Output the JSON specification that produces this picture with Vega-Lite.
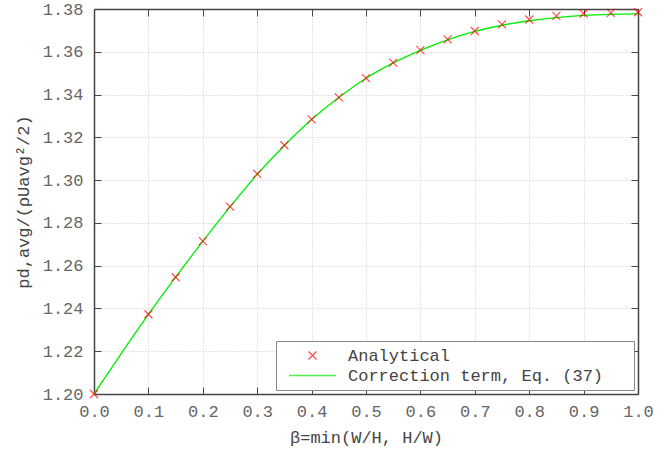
{
  "$schema": "https://vega.github.io/schema/vega-lite/v6.json",
  "autosize": {"type": "none"},
  "padding": {"left": 94, "top": 9, "right": 32, "bottom": 58},
  "width": 544,
  "height": 385,
  "background": "white",
  "config": {
    "view": {"stroke": null},
    "font": "Liberation Mono",
    "axis": {
      "labelFont": "Liberation Mono",
      "titleFont": "Liberation Mono",
      "labelFontSize": 17,
      "titleFontSize": 17,
      "labelColor": "#666666",
      "titleColor": "#444444",
      "titleFontWeight": "normal",
      "domainColor": "#444444",
      "domainWidth": 1.5,
      "tickColor": "#444444",
      "tickWidth": 1,
      "tickSize": -7,
      "gridColor": "#c8c8c8",
      "gridDash": [1, 2],
      "gridWidth": 1
    },
    "legend": {
      "labelFont": "Liberation Mono",
      "labelFontSize": 17,
      "labelColor": "#444444"
    }
  },
  "datasets": {
    "analytical": [
      {"beta": 0.0, "value": 1.2000, "series": "Analytical"},
      {"beta": 0.1, "value": 1.2373, "series": "Analytical"},
      {"beta": 0.15, "value": 1.2546, "series": "Analytical"},
      {"beta": 0.2, "value": 1.2715, "series": "Analytical"},
      {"beta": 0.25, "value": 1.2876, "series": "Analytical"},
      {"beta": 0.3, "value": 1.3029, "series": "Analytical"},
      {"beta": 0.35, "value": 1.3163, "series": "Analytical"},
      {"beta": 0.4, "value": 1.3284, "series": "Analytical"},
      {"beta": 0.45, "value": 1.3387, "series": "Analytical"},
      {"beta": 0.5, "value": 1.3477, "series": "Analytical"},
      {"beta": 0.55, "value": 1.3549, "series": "Analytical"},
      {"beta": 0.6, "value": 1.3608, "series": "Analytical"},
      {"beta": 0.65, "value": 1.3658, "series": "Analytical"},
      {"beta": 0.7, "value": 1.3697, "series": "Analytical"},
      {"beta": 0.75, "value": 1.3728, "series": "Analytical"},
      {"beta": 0.8, "value": 1.3751, "series": "Analytical"},
      {"beta": 0.85, "value": 1.3768, "series": "Analytical"},
      {"beta": 0.9, "value": 1.3779, "series": "Analytical"},
      {"beta": 0.95, "value": 1.3782, "series": "Analytical"},
      {"beta": 1.0, "value": 1.3785, "series": "Analytical"}
    ],
    "correction": [
      {"beta": 0.0, "value": 1.2000, "series": "Correction term, Eq. (37)"},
      {"beta": 0.05, "value": 1.2189, "series": "Correction term, Eq. (37)"},
      {"beta": 0.1, "value": 1.2372, "series": "Correction term, Eq. (37)"},
      {"beta": 0.15, "value": 1.2546, "series": "Correction term, Eq. (37)"},
      {"beta": 0.2, "value": 1.2714, "series": "Correction term, Eq. (37)"},
      {"beta": 0.25, "value": 1.2875, "series": "Correction term, Eq. (37)"},
      {"beta": 0.3, "value": 1.3027, "series": "Correction term, Eq. (37)"},
      {"beta": 0.35, "value": 1.3162, "series": "Correction term, Eq. (37)"},
      {"beta": 0.4, "value": 1.3283, "series": "Correction term, Eq. (37)"},
      {"beta": 0.45, "value": 1.3386, "series": "Correction term, Eq. (37)"},
      {"beta": 0.5, "value": 1.3476, "series": "Correction term, Eq. (37)"},
      {"beta": 0.55, "value": 1.3548, "series": "Correction term, Eq. (37)"},
      {"beta": 0.6, "value": 1.3607, "series": "Correction term, Eq. (37)"},
      {"beta": 0.65, "value": 1.3656, "series": "Correction term, Eq. (37)"},
      {"beta": 0.7, "value": 1.3695, "series": "Correction term, Eq. (37)"},
      {"beta": 0.75, "value": 1.3724, "series": "Correction term, Eq. (37)"},
      {"beta": 0.8, "value": 1.3745, "series": "Correction term, Eq. (37)"},
      {"beta": 0.85, "value": 1.3760, "series": "Correction term, Eq. (37)"},
      {"beta": 0.9, "value": 1.3770, "series": "Correction term, Eq. (37)"},
      {"beta": 0.95, "value": 1.3775, "series": "Correction term, Eq. (37)"},
      {"beta": 1.0, "value": 1.3777, "series": "Correction term, Eq. (37)"}
    ]
  },
  "layer": [
    {
      "data": {"name": "correction"},
      "mark": {"type": "line", "interpolate": "monotone", "strokeWidth": 1.3, "color": "#00ee00", "clip": true},
      "encoding": {
        "x": {
          "field": "beta", "type": "quantitative",
          "scale": {"domain": [0, 1], "nice": false, "zero": false},
          "axis": {
            "orient": "bottom", "values": [0, 0.1, 0.2, 0.3, 0.4, 0.5, 0.6, 0.7, 0.8, 0.9, 1.0],
            "format": ".1f", "title": "β=min(W/H, H/W)", "labelPadding": 16, "titlePadding": 10,
            "grid": true, "labelFlush": false
          }
        },
        "y": {
          "field": "value", "type": "quantitative",
          "scale": {"domain": [1.2, 1.38], "nice": false, "zero": false},
          "axis": {
            "orient": "left", "values": [1.2, 1.22, 1.24, 1.26, 1.28, 1.3, 1.32, 1.34, 1.36, 1.38],
            "format": ".2f", "title": "pd,avg/(ρUavg²/2)", "labelPadding": 18, "titlePadding": 10,
            "grid": true, "labelFlush": false
          }
        }
      }
    },
    {
      "data": {"name": "analytical"},
      "mark": {"type": "point", "filled": false, "strokeWidth": 1.2, "size": 100, "clip": false},
      "encoding": {
        "x": {
          "field": "beta", "type": "quantitative",
          "scale": {"domain": [0, 1], "nice": false, "zero": false},
          "axis": {"orient": "top", "values": [0, 0.1, 0.2, 0.3, 0.4, 0.5, 0.6, 0.7, 0.8, 0.9, 1.0], "labels": false, "title": null, "grid": false}
        },
        "y": {
          "field": "value", "type": "quantitative",
          "scale": {"domain": [1.2, 1.38], "nice": false, "zero": false},
          "axis": {"orient": "right", "values": [1.2, 1.22, 1.24, 1.26, 1.28, 1.3, 1.32, 1.34, 1.36, 1.38], "labels": false, "title": null, "grid": false}
        },
        "color": {
          "field": "series", "type": "nominal",
          "scale": {"domain": ["Analytical", "Correction term, Eq. (37)"], "range": ["#ff0000", "#00ee00"]},
          "legend": {
            "title": null,
            "orient": "bottom-right",
            "offset": 4,
            "padding": 6,
            "strokeColor": "#888888",
            "fillColor": "white",
            "symbolSize": 100,
            "symbolStrokeWidth": 1.3,
            "symbolOffset": 22,
            "labelOffset": 27,
            "rowPadding": 2,
            "labelLimit": 400,
            "labelExpr": "datum.label + '\u2800\u2800'",
            "values": ["Analytical", "Correction term, Eq. (37)"]
          }
        },
        "shape": {
          "field": "series", "type": "nominal",
          "scale": {"domain": ["Analytical", "Correction term, Eq. (37)"], "range": ["M-0.8,-0.8L0.8,0.8M0.8,-0.8L-0.8,0.8", "M-4.7,0L4.7,0"]},
          "legend": {
            "title": null,
            "orient": "bottom-right",
            "offset": 4,
            "padding": 6,
            "strokeColor": "#888888",
            "fillColor": "white",
            "symbolSize": 100,
            "symbolStrokeWidth": 1.3,
            "symbolOffset": 22,
            "labelOffset": 27,
            "rowPadding": 2,
            "labelLimit": 400,
            "labelExpr": "datum.label + '\u2800\u2800'",
            "values": ["Analytical", "Correction term, Eq. (37)"]
          }
        }
      }
    }
  ],
  "resolve": {"axis": {"x": "independent", "y": "independent"}}
}
